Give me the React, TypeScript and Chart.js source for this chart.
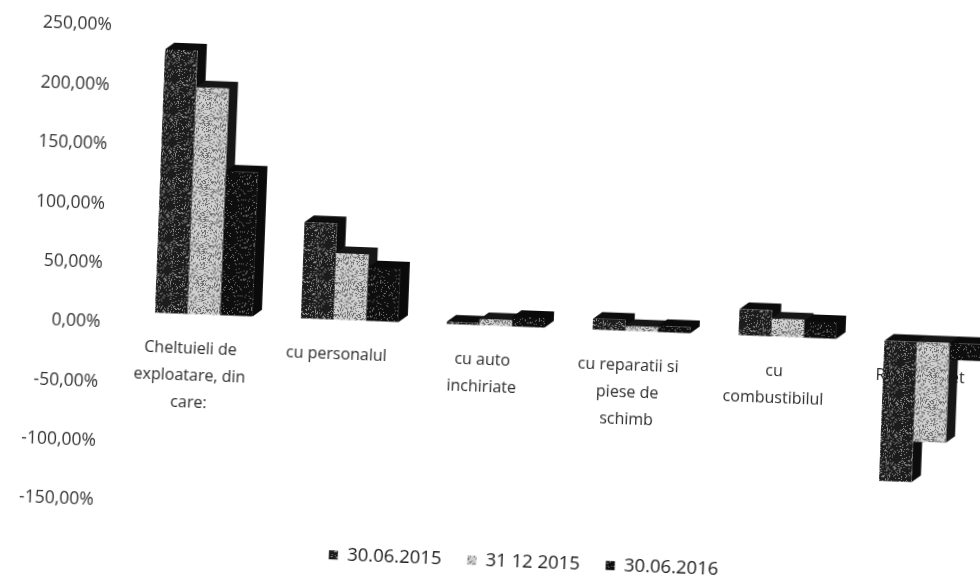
import React, { useEffect, useRef } from "react";
import { Chart, registerables } from "chart.js";

Chart.register(...registerables);

const categories = [
  ["Cheltuieli de", "exploatare, din", "care:"],
  ["cu personalul"],
  ["cu auto", "inchiriate"],
  ["cu reparatii si", "piese de", "schimb"],
  ["cu", "combustibilul"],
  ["Rezultat net"],
];
const seriesNames = ["30.06.2015", "31 12 2015", "30.06.2016"];
const values2015 = [222, 81, 2, 9, 22, -118];
const valuesDec2015 = [191, 56, 5, 4, 15, -84];
const values2016 = [121, 45, 8, 5, 14, -14];
const FONT = "'Open Sans', sans-serif";

function speckle(base: string, spots: string, density: number) {
  const c = document.createElement("canvas");
  c.width = 32;
  c.height = 32;
  const g = c.getContext("2d")!;
  g.fillStyle = base;
  g.fillRect(0, 0, 32, 32);
  g.fillStyle = spots;
  let h = 17;
  for (let y = 0; y < 32; y++) {
    for (let x = 0; x < 32; x++) {
      h = (h * 73 + x * 31 + y * 17 + 11) % 1009;
      if (h % 100 < density) g.fillRect(x, y, 1, 1);
    }
  }
  return g.createPattern(c, "repeat")!;
}

const DX = 9;
const DY = -7;
const depthPlugin = {
  id: "depth3d",
  beforeDatasetsDraw(chart: any) {
    const ctx = chart.ctx;
    ctx.save();
    chart.data.datasets.forEach((ds: any, i: number) => {
      ctx.fillStyle = ds.sideColor;
      chart.getDatasetMeta(i).data.forEach((bar: any) => {
        const p = bar.getProps(["x", "y", "base", "width"], true);
        const l = p.x - p.width / 2;
        const r = p.x + p.width / 2;
        const top = Math.min(p.y, p.base);
        const bottom = Math.max(p.y, p.base);
        ctx.beginPath();
        ctx.moveTo(l, top);
        ctx.lineTo(l + DX, top + DY);
        ctx.lineTo(r + DX, top + DY);
        ctx.lineTo(r + DX, bottom + DY);
        ctx.lineTo(r, bottom);
        ctx.lineTo(r, top);
        ctx.closePath();
        ctx.fill();
      });
    });
    ctx.restore();
  },
};

export default function App() {
  const ref = useRef<HTMLCanvasElement>(null);
  useEffect(() => {
    const chart = new Chart(ref.current!, {
      type: "bar",
      plugins: [depthPlugin],
      data: {
        labels: categories as any,
        datasets: [
          { label: seriesNames[0], data: values2015, yAxisID: "yBars", backgroundColor: speckle("#1c1c1c", "#8a8a8a", 18), sideColor: "#0c0c0c" } as any,
          { label: seriesNames[1], data: valuesDec2015, yAxisID: "yBars", backgroundColor: speckle("#cfcfcf", "#6e6e6e", 30), sideColor: "#161616" } as any,
          { label: seriesNames[2], data: values2016, yAxisID: "yBars", backgroundColor: speckle("#0e0e0e", "#777777", 8), sideColor: "#0a0a0a" } as any,
        ],
      },
      options: {
        animation: false,
        responsive: false,
        events: [],
        layout: { padding: { left: 0, right: 2, top: 35, bottom: 20 } },
        datasets: { bar: { categoryPercentage: 0.67, barPercentage: 1, borderWidth: 0 } },
        scales: {
          x: {
            position: { yBars: 0 } as any,
            grid: { display: false },
            border: { display: false },
            ticks: {
              autoSkip: false,
              maxRotation: 0,
              minRotation: 0,
              padding: 13,
              labelOffset: -12,
              color: "#2b2b2b",
              font: { family: FONT, size: 16, lineHeight: 1.7 },
            },
          },
          y: {
            position: "left",
            min: -150,
            max: 250,
            afterFit: (s: any) => {
              s.width = 132;
            },
            grid: { display: false, drawTicks: false },
            border: { display: false },
            ticks: {
              stepSize: 50,
              padding: 30,
              color: "#333333",
              font: { family: FONT, size: 17.5 },
              callback: (v: any) => Number(v).toFixed(2).replace(".", ",") + "%",
            },
          },
          yBars: {
            position: "right",
            min: -160,
            max: 240,
            afterFit: (s: any) => {
              s.width = 60;
            },
            grid: { display: false, drawTicks: false },
            border: { display: false },
            ticks: { display: false },
          },
        },
        plugins: {
          tooltip: { enabled: false },
          legend: {
            position: "bottom",
            title: { display: true, text: " ", padding: { top: 0, bottom: 4 }, font: { size: 5 } },
            labels: {
              color: "#1a1a1a",
              boxWidth: 9,
              boxHeight: 9,
              padding: 26,
              font: { family: FONT, size: 18.5 },
            },
          },
        },
      } as any,
    });
    return () => chart.destroy();
  }, []);

  return (
    <div style={{ position: "fixed", left: 0, top: 0, width: 980, height: 579, overflow: "hidden", background: "#fff" }}>
      <canvas
        ref={ref}
        width={1070}
        height={600}
        style={{
          position: "absolute",
          left: 0,
          top: 0,
          width: 1070,
          height: 600,
          transformOrigin: "490px 290px",
          transform: "rotate(2.2deg)",
        }}
      />
    </div>
  );
}
